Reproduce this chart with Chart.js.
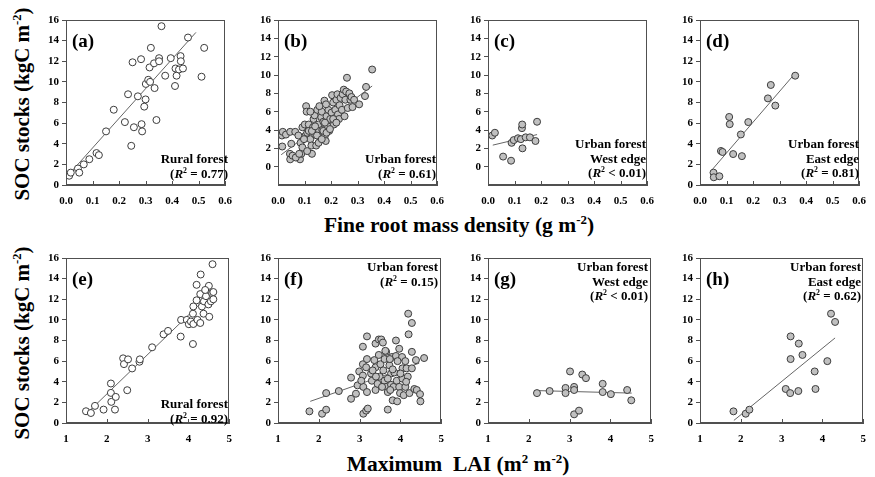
<!DOCTYPE html>
<html>
<head>
<meta charset="utf-8">
<script src="https://cdn.jsdelivr.net/npm/chart.js@4.4.1/dist/chart.umd.min.js"></script>
<style>
  body {
    margin: 0;
    width: 875px;
    height: 477px;
    position: relative;
    overflow: hidden;
    background: #fff;
    color: #000;
    font-family: "Liberation Serif", "Times New Roman", serif;
    font-weight: bold;
  }
  canvas { position: absolute; }
  .tag { position: absolute; font-size: 19px; line-height: 19px; }
  .note {
    position: absolute;
    font-size: 13px;
    line-height: 14.5px;
    text-align: right;
    white-space: nowrap;
  }
  .ytitle {
    position: absolute;
    font-size: 21px;
    white-space: nowrap;
    transform: translate(-50%, -50%) rotate(-90deg);
  }
  .xtitle {
    position: absolute;
    font-size: 21.5px;
    white-space: nowrap;
    transform: translate(-50%, -50%);
  }
  sup { font-size: 0.6em; line-height: 0; vertical-align: 0.6em; }
</style>
</head>
<body>

<div class="ytitle" style="left:22px; top:104px;">SOC stocks (kgC m<sup>-2</sup>)</div>
<div class="ytitle" style="left:22px; top:343px;">SOC stocks (kgC m<sup>-2</sup>)</div>
<div class="xtitle" style="left:459px; top:225px;">Fine root mass density (g m<sup>-2</sup>)</div>
<div class="xtitle" style="left:458px; top:464px;">Maximum&nbsp; LAI (m<sup>2</sup> m<sup>-2</sup>)</div>

<script>
// Fine root mass density (g m-2) vs SOC stocks (kgC m-2)
const ruralRoot = [
  [0.012, 0.9], [0.018, 1.2], [0.045, 1.6], [0.05, 1.2], [0.067, 2.0],
  [0.088, 2.5], [0.115, 3.1], [0.124, 2.9], [0.151, 5.2], [0.18, 7.3],
  [0.222, 6.1], [0.234, 8.8], [0.246, 3.8], [0.251, 11.9], [0.256, 5.6],
  [0.271, 8.6], [0.283, 12.2], [0.285, 5.9], [0.287, 5.2], [0.295, 7.6],
  [0.30, 8.3], [0.301, 9.8], [0.31, 10.2], [0.315, 11.4], [0.317, 10.0],
  [0.32, 13.3], [0.332, 11.8], [0.334, 9.4], [0.341, 6.3], [0.351, 12.3],
  [0.351, 12.0], [0.36, 15.4], [0.374, 10.6], [0.395, 12.3], [0.411, 9.6],
  [0.413, 11.3], [0.417, 10.6], [0.426, 11.2], [0.432, 12.5], [0.433, 12.0],
  [0.441, 11.3], [0.46, 14.3], [0.511, 10.5], [0.521, 13.3]
];

const urbanRoot = [
  [0.015, 3.4], [0.018, 3.8], [0.016, 2.2], [0.03, 3.5], [0.046, 3.8],
  [0.05, 2.5], [0.045, 1.4], [0.046, 0.8], [0.055, 1.2], [0.065, 3.8],
  [0.077, 3.4], [0.083, 0.8], [0.088, 1.4], [0.085, 2.6], [0.092, 4.3],
  [0.101, 4.6], [0.106, 6.6], [0.108, 6.0], [0.104, 3.4], [0.11, 3.7],
  [0.116, 4.6], [0.122, 3.0], [0.126, 2.3], [0.128, 1.4], [0.132, 4.3],
  [0.134, 5.2], [0.138, 5.6], [0.14, 3.5], [0.144, 2.3], [0.148, 6.2],
  [0.153, 4.6], [0.155, 3.9], [0.159, 3.2], [0.163, 5.4], [0.165, 6.0],
  [0.167, 4.0], [0.171, 4.9], [0.175, 7.2], [0.177, 3.4], [0.18, 2.8],
  [0.183, 5.5], [0.187, 4.4], [0.19, 6.2], [0.193, 3.9], [0.197, 5.2],
  [0.202, 5.9], [0.204, 7.8], [0.208, 7.0], [0.211, 4.6], [0.214, 5.3],
  [0.216, 6.2], [0.22, 7.3], [0.224, 7.9], [0.226, 5.7], [0.23, 5.2],
  [0.232, 6.7], [0.236, 7.5], [0.241, 6.2], [0.244, 7.9], [0.248, 8.4],
  [0.251, 5.5], [0.254, 7.3], [0.257, 8.2], [0.26, 9.7], [0.263, 6.4],
  [0.269, 8.0], [0.273, 7.3], [0.277, 7.6], [0.281, 6.5], [0.287, 7.3],
  [0.306, 6.8], [0.328, 7.7], [0.332, 8.7], [0.355, 10.6], [0.116, 3.9],
  [0.122, 6.0], [0.128, 3.9], [0.14, 4.4], [0.147, 3.4], [0.153, 2.6],
  [0.165, 3.0], [0.171, 3.9], [0.177, 4.8], [0.183, 3.7], [0.196, 4.1],
  [0.208, 5.2], [0.22, 4.8], [0.098, 3.0], [0.092, 2.1], [0.11, 1.7],
  [0.067, 1.0], [0.08, 1.4], [0.156, 6.6], [0.181, 6.8]
];

const westRoot = [
  [0.016, 3.4], [0.026, 3.7], [0.057, 1.1], [0.087, 0.65], [0.089, 2.6],
  [0.097, 2.9], [0.113, 3.1], [0.124, 3.0], [0.128, 4.2], [0.129, 4.6],
  [0.13, 2.0], [0.142, 3.2], [0.158, 3.2], [0.179, 2.8], [0.185, 4.9]
];

const eastRoot = [
  [0.051, 1.2], [0.052, 0.75], [0.073, 0.85], [0.079, 3.3], [0.085, 3.2],
  [0.11, 6.6], [0.112, 5.9], [0.125, 3.0], [0.154, 4.9], [0.158, 2.8],
  [0.182, 6.1], [0.256, 8.4], [0.267, 9.7], [0.284, 7.7], [0.359, 10.6]
];

// Maximum LAI (m2 m-2) vs SOC stocks (kgC m-2)
const ruralLai = [
  [1.49, 1.14], [1.61, 0.97], [1.71, 1.66], [1.92, 1.3], [2.10, 3.83],
  [2.10, 2.92], [2.11, 2.05], [2.20, 1.3], [2.22, 2.53], [2.40, 6.27],
  [2.42, 5.71], [2.50, 3.18], [2.52, 6.17], [2.62, 5.29], [2.80, 5.94],
  [2.81, 6.17], [3.11, 7.34], [3.39, 8.6], [3.50, 8.93], [3.81, 8.38],
  [3.82, 10.0], [3.96, 10.0], [4.01, 9.58], [4.06, 9.84], [4.11, 7.66],
  [4.12, 9.6], [4.11, 10.6], [4.12, 11.3], [4.20, 11.9], [4.20, 13.4],
  [4.22, 10.0], [4.29, 12.5], [4.30, 14.4], [4.33, 11.3], [4.37, 10.6],
  [4.38, 11.8], [4.43, 12.3], [4.49, 11.5], [4.50, 13.3], [4.51, 10.3],
  [4.55, 11.8], [4.58, 12.6], [4.59, 15.4], [4.61, 12.0], [4.61, 12.7],
  [4.29, 9.7], [4.41, 12.9]
];

const urbanLai = [
  [1.77, 1.13], [2.08, 0.9], [2.18, 1.29], [2.18, 2.9], [2.49, 3.1],
  [2.79, 4.4], [2.79, 2.35], [2.91, 2.84], [2.95, 3.65], [2.99, 5.0],
  [3.08, 7.4], [3.08, 5.7], [3.08, 4.6], [3.09, 3.5], [3.09, 0.9],
  [3.16, 1.2], [3.2, 1.4], [3.18, 8.4], [3.18, 6.2], [3.18, 3.0],
  [3.28, 4.8], [3.3, 4.1], [3.36, 6.1], [3.39, 7.7], [3.39, 5.4],
  [3.39, 3.2], [3.47, 8.1], [3.47, 6.6], [3.49, 4.5], [3.51, 5.7],
  [3.53, 8.1], [3.57, 7.8], [3.58, 5.1], [3.61, 4.1], [3.61, 6.2],
  [3.65, 6.9], [3.65, 3.5], [3.69, 1.3], [3.69, 3.0], [3.73, 5.6],
  [3.77, 4.8], [3.77, 3.7], [3.79, 6.4], [3.81, 2.2], [3.83, 3.5],
  [3.85, 4.9], [3.89, 8.0], [3.89, 6.5], [3.91, 4.1], [3.92, 2.1],
  [3.97, 7.2], [3.97, 3.5], [3.99, 2.9], [4.04, 6.4], [4.05, 5.3],
  [4.05, 4.3], [4.08, 2.7], [4.12, 6.0], [4.12, 3.5], [4.15, 5.3],
  [4.18, 4.5], [4.19, 10.6], [4.20, 8.6], [4.22, 2.9], [4.28, 9.7],
  [4.28, 6.9], [4.28, 5.3], [4.34, 3.3], [4.38, 6.1], [4.40, 3.2],
  [4.48, 2.8], [4.49, 2.1], [4.58, 6.3], [3.32, 5.1], [3.44, 3.8],
  [3.55, 3.5], [3.69, 4.3], [3.74, 6.2], [3.81, 5.2], [4.0, 4.8],
  [3.4, 4.5], [3.63, 7.0], [3.16, 5.4], [3.04, 4.1], [3.75, 3.2],
  [4.14, 4.0], [3.93, 6.0]
];

const westLai = [
  [2.20, 2.9], [2.51, 3.1], [2.9, 3.4], [2.9, 2.9], [3.01, 5.0],
  [3.11, 0.84], [3.11, 3.5], [3.11, 3.2], [3.23, 1.2], [3.31, 4.7],
  [3.4, 4.35], [3.81, 3.8], [3.81, 3.0], [4.01, 2.8], [4.41, 3.2],
  [4.51, 2.2]
];

const eastLai = [
  [1.82, 1.13], [2.12, 0.9], [2.21, 1.29], [3.10, 3.3], [3.21, 2.9],
  [3.22, 8.4], [3.22, 6.2], [3.41, 3.1], [3.42, 7.7], [3.51, 6.6],
  [3.81, 5.0], [3.83, 3.3], [4.12, 6.0], [4.21, 10.6], [4.31, 9.8]
];

// fitted lines, end points
const ruralRootFit = [[0.01, 1.0], [0.49, 14.8]];
const urbanRootFit = [[0.012, 1.3], [0.355, 8.8]];
const westRootFit = [[0.018, 2.35], [0.185, 3.5]];
const eastRootFit = [[0.048, 1.55], [0.361, 10.9]];
const ruralLaiFit = [[1.54, 1.05], [4.61, 12.8]];
const urbanLaiFit = [[1.79, 2.1], [4.46, 5.8]];
const westLaiFit = [[2.13, 3.15], [4.52, 2.9]];
const eastLaiFit = [[1.83, 0.25], [4.31, 8.25]];

const rootTicks = [0, 0.6, 0.1];
const laiTicks = [1, 5, 1];
const socTicks = [0, 16, 2];

const R2 = "(<i>R</i><sup>2</sup>";

const panels = [
  { tag: "(a)", points: ruralRoot, fit: ruralRootFit, rural: true, xTicks: rootTicks, yMin: 0,
    note: ["Rural forest", R2 + " = 0.77)"] },
  { tag: "(b)", points: urbanRoot, fit: urbanRootFit, rural: false, xTicks: rootTicks, yMin: -2,
    note: ["Urban forest", R2 + " = 0.61)"] },
  { tag: "(c)", points: westRoot, fit: westRootFit, rural: false, xTicks: rootTicks, yMin: -2,
    note: ["Urban forest", "West edge", R2 + " &lt; 0.01)"] },
  { tag: "(d)", points: eastRoot, fit: eastRootFit, rural: false, xTicks: rootTicks, yMin: 0,
    note: ["Urban forest", "East edge", R2 + " = 0.81)"] },
  { tag: "(e)", points: ruralLai, fit: ruralLaiFit, rural: true, xTicks: laiTicks, yMin: 0,
    note: ["Rural forest", R2 + " = 0.92)"] },
  { tag: "(f)", points: urbanLai, fit: urbanLaiFit, rural: false, xTicks: laiTicks, yMin: 0,
    note: ["Urban forest", R2 + " = 0.15)"] },
  { tag: "(g)", points: westLai, fit: westLaiFit, rural: false, xTicks: laiTicks, yMin: 0,
    note: ["Urban forest", "West edge", R2 + " &lt; 0.01)"] },
  { tag: "(h)", points: eastLai, fit: eastLaiFit, rural: false, xTicks: laiTicks, yMin: 0,
    note: ["Urban forest", "East edge", R2 + " = 0.62)"] }
];

// plot area placement
const colLeft = [66, 278, 488, 700];
const rowTop = [20, 258];
const plotW = 164;
const plotH = 165;
const padLeft = 40;
const padTop = 12;
const padRight = 12;
const padBottom = 22;

// note box: right edge and centre of first line, relative to plot area
const notePlace = [
  { right: 2, y: 139 }, { right: 6, y: 139 }, { right: 6, y: 124 }, { right: 5, y: 124 },
  { right: 2, y: 146 }, { right: 4, y: 9 }, { right: 4, y: 9 }, { right: 3, y: 9 }
];

const axisColor = "#505050";
const tickFont = { family: '"Liberation Serif", serif', size: 11, weight: "bold" };

const framePlugin = {
  id: "frame",
  afterDraw(chart) {
    const { ctx, chartArea: a, scales } = chart;
    ctx.save();
    ctx.strokeStyle = axisColor;
    ctx.lineWidth = 1;
    ctx.strokeRect(Math.round(a.left) + 0.5, Math.round(a.top) + 0.5,
      Math.round(a.right - a.left) - 1, Math.round(a.bottom - a.top) - 1);
    // inward tick marks on the x axis
    ctx.beginPath();
    scales.x.ticks.forEach(t => {
      const px = Math.round(scales.x.getPixelForValue(t.value)) + 0.5;
      ctx.moveTo(px, a.bottom);
      ctx.lineTo(px, a.bottom - 4);
    });
    ctx.stroke();
    ctx.restore();
  }
};

function toXY(list) {
  return list.map(p => ({ x: p[0], y: p[1] }));
}

function addDiv(cls, left, top, html, extra) {
  const div = document.createElement("div");
  div.className = cls;
  div.style.left = left + "px";
  div.style.top = top + "px";
  if (extra) Object.assign(div.style, extra);
  div.innerHTML = html;
  document.body.appendChild(div);
  return div;
}

function drawPanel(panel, index) {
  const left = colLeft[index % 4];
  const top = rowTop[Math.floor(index / 4)];
  const [xMin, xMax, xStep] = panel.xTicks;
  const decimals = xStep < 1 ? 1 : 0;

  const canvas = document.createElement("canvas");
  canvas.width = plotW + padLeft + padRight;
  canvas.height = plotH + padTop + padBottom;
  canvas.style.left = (left - padLeft) + "px";
  canvas.style.top = (top - padTop) + "px";
  document.body.appendChild(canvas);

  new Chart(canvas.getContext("2d"), {
    type: "scatter",
    data: {
      datasets: [
        {
          data: toXY(panel.points),
          pointRadius: 3.5,
          pointBackgroundColor: panel.rural ? "#ffffff" : "#c0c0c0",
          pointBorderColor: "#3c3c3c",
          pointBorderWidth: 1
        },
        {
          data: toXY(panel.fit),
          showLine: true,
          pointRadius: 0,
          borderColor: "#656565",
          borderWidth: 1
        }
      ]
    },
    options: {
      responsive: false,
      animation: false,
      layout: { padding: { top: padTop, right: padRight, left: 0, bottom: 0 } },
      plugins: { legend: { display: false }, tooltip: { enabled: false } },
      scales: {
        x: {
          type: "linear",
          min: xMin,
          max: xMax,
          ticks: {
            stepSize: xStep,
            color: "#000",
            font: tickFont,
            padding: 10,
            maxRotation: 0,
            callback: v => Number(v).toFixed(decimals)
          },
          grid: { drawOnChartArea: false, drawTicks: false },
          border: { color: axisColor },
          afterFit(scale) { scale.height = padBottom; }
        },
        y: {
          min: panel.yMin,
          max: socTicks[1],
          ticks: {
            stepSize: socTicks[2],
            color: "#000",
            font: tickFont,
            padding: 3,
            callback: v => (v < socTicks[0] ? "" : v)
          },
          grid: {
            drawOnChartArea: false,
            tickLength: 4,
            color: c => (c.tick && c.tick.value < socTicks[0] ? "rgba(0,0,0,0)" : axisColor)
          },
          border: { color: axisColor },
          afterFit(scale) { scale.width = padLeft; }
        }
      }
    },
    plugins: [framePlugin]
  });

  addDiv("tag", left + 6, top + 11, panel.tag);

  const place = notePlace[index];
  addDiv("note", 0, top + place.y - 7, panel.note.join("<br>"), {
    left: "auto",
    right: (875 - (left + plotW - place.right)) + "px"
  });
}

panels.forEach(drawPanel);
</script>
</body>
</html>
